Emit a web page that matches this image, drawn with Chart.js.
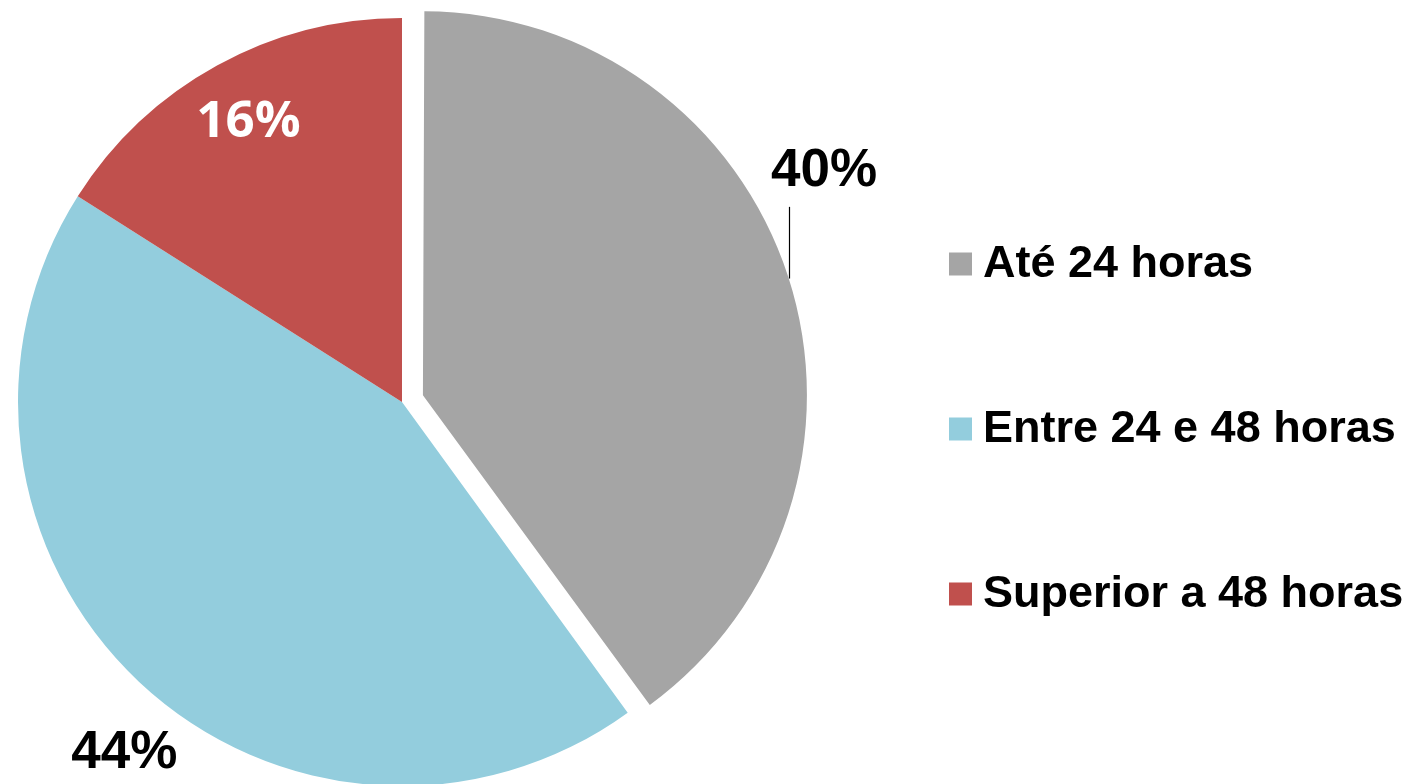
<!DOCTYPE html>
<html>
<head>
<meta charset="utf-8">
<script src="https://cdn.jsdelivr.net/npm/chart.js@4"></script>
<style>
  html, body { margin: 0; padding: 0; background: #fff; }
  #wrap { width: 1415px; height: 784px; position: relative; }
</style>
</head>
<body>
<div id="wrap"><canvas id="pieTempo"></canvas></div>
<script>
"use strict";
// data
var categorias = ["Até 24 horas", "Entre 24 e 48 horas", "Superior a 48 horas"];
var percentuais = [40, 44, 16];
var cores = ["#A5A5A5", "#93CDDD", "#C0504D"];

// explode of the first slice, in pixels (chart.js v4 moves arcs by offset/4)
var explodePx = 22;

// label placement per slice: radius factor, angle shift (deg), font, colour
var labelStyle = [
    {r: 1.252, a: -10.6, font: "bold 53px 'Liberation Sans', Arial, sans-serif", color: "#000", leader: true},
    {r: 1.167, a: -4.9, font: "bold 53px 'Liberation Sans', Arial, sans-serif", color: "#000", leader: false},
    {r: 0.83, a: 0, font: "bold 51px 'Open Sans', sans-serif", color: "#fff", leader: false}
];

// chart.js also grows an offset arc's radius; undo that so the slice keeps its size
var keepRadius = {
    id: "keepRadius",
    afterDatasetsUpdate: function (chart) {
        var meta = chart.getDatasetMeta(0);
        var base = meta.controller.outerRadius;
        meta.data.forEach(function (arc) {
            var off = (arc.options.offset || 0) / 4;
            var circ = arc.endAngle - arc.startAngle;
            var fix = 1 - Math.sin(Math.min(Math.PI, circ));
            arc.outerRadius = base - off * fix;
        });
    }
};

var pieLabels = {
    id: "pieLabels",
    afterDatasetsDraw: function (chart) {
        var ctx = chart.ctx;
        var meta = chart.getDatasetMeta(0);
        var raio = meta.controller.outerRadius;
        meta.data.forEach(function (arc, i) {
            var st = labelStyle[i];
            var mid = (arc.startAngle + arc.endAngle) / 2;
            var off = (arc.options.offset || 0) / 4;
            var cx = arc.x + Math.cos(mid) * off;
            var cy = arc.y + Math.sin(mid) * off;
            var ang = mid + st.a * Math.PI / 180;
            var lx = arc.x + Math.cos(ang) * raio * st.r;
            var ly = arc.y + Math.sin(ang) * raio * st.r;
            ctx.save();
            ctx.font = st.font;
            ctx.fillStyle = st.color;
            ctx.textAlign = "center";
            ctx.textBaseline = "middle";
            ctx.fillText(percentuais[i] + "%", lx, ly);
            if (st.leader) {
                // line from the slice edge straight up to the label
                var ex = cx + Math.cos(mid) * raio;
                var ey = cy + Math.sin(mid) * raio;
                ctx.strokeStyle = "#000";
                ctx.lineWidth = 1.2;
                ctx.beginPath();
                ctx.moveTo(Math.round(ex) + 1.5, ey + 2);
                ctx.lineTo(Math.round(ex) + 1.5, ly + 35);
                ctx.stroke();
            }
            ctx.restore();
        });
    }
};

var legendaDireita = {
    id: "legendaDireita",
    afterDraw: function (chart) {
        var ctx = chart.ctx;
        var x0 = 949, y0 = 264, passo = 165, box = 23;
        ctx.save();
        ctx.font = "bold 45px 'Liberation Sans', Arial, sans-serif";
        ctx.textBaseline = "alphabetic";
        ctx.textAlign = "left";
        chart.data.labels.forEach(function (lbl, i) {
            var y = y0 + i * passo;
            ctx.fillStyle = chart.data.datasets[0].backgroundColor[i];
            ctx.fillRect(x0, y - box / 2, box, box);
            ctx.fillStyle = "#000";
            ctx.fillText(lbl, x0 + 34, y + 13);
        });
        ctx.restore();
    }
};

var chart = new Chart(document.getElementById("pieTempo"), {
    type: "pie",
    data: {
        labels: categorias,
        datasets: [{
            data: percentuais,
            backgroundColor: cores,
            borderWidth: 0,
            offset: [explodePx * 4, 0, 0],
            clip: false
        }]
    },
    options: {
        responsive: true,
        maintainAspectRatio: false,
        animation: false,
        radius: 384,
        layout: {
            padding: {left: 0, right: 611, top: 20, bottom: 0}
        },
        plugins: {
            legend: {display: false},
            tooltip: {enabled: false}
        }
    },
    plugins: [keepRadius, pieLabels, legendaDireita]
});
</script>
</body>
</html>
